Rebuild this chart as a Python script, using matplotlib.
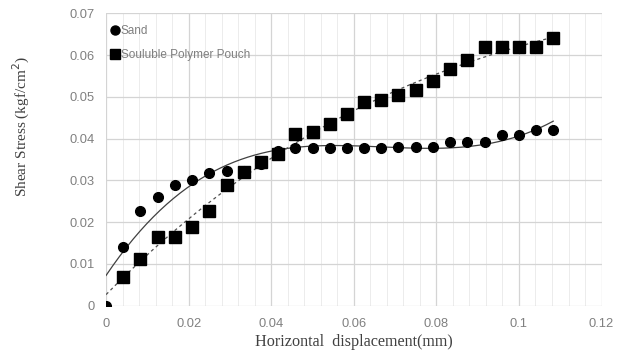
import numpy as np
import matplotlib
matplotlib.use("Agg")
import matplotlib.pyplot as plt
from matplotlib.lines import Line2D

displacement = [0, 0.0042, 0.0083, 0.0125, 0.0167, 0.0208, 0.025, 0.0292, 0.0333,
                0.0375, 0.0417, 0.0458, 0.05, 0.0542, 0.0583, 0.0625, 0.0667, 0.0708,
                0.075, 0.0792, 0.0833, 0.0875, 0.0917, 0.0958, 0.1, 0.1042, 0.1083]
sand = [0, 0.0141, 0.0227, 0.0261, 0.0290, 0.0301, 0.0318, 0.0323, 0.0322,
        0.0340, 0.0370, 0.0378, 0.0377, 0.0377, 0.0377, 0.0377, 0.0377, 0.0381,
        0.0381, 0.0381, 0.0392, 0.0392, 0.0392, 0.0408, 0.0408, 0.0420, 0.0420]
pouch_displacement = displacement[1:]
pouch = [0.0069, 0.0113, 0.0164, 0.0164, 0.0188, 0.0227, 0.0289, 0.0320,
         0.0345, 0.0364, 0.0412, 0.0416, 0.0435, 0.0459, 0.0487, 0.0492, 0.0504,
         0.0516, 0.0538, 0.0566, 0.0588, 0.0620, 0.0620, 0.0620, 0.0620, 0.0642]
series_names = ["Sand", "Souluble Polymer Pouch"]
x_ticks = [0, 0.02, 0.04, 0.06, 0.08, 0.1, 0.12]
x_tick_labels = ["0", "0.02", "0.04", "0.06", "0.08", "0.1", "0.12"]
y_ticks = [0, 0.01, 0.02, 0.03, 0.04, 0.05, 0.06, 0.07]
y_tick_labels = ["0", "0.01", "0.02", "0.03", "0.04", "0.05", "0.06", "0.07"]

fig = plt.figure(figsize=(6.24, 3.51), dpi=100)
ax = fig.add_axes([0.170, 0.129, 0.794, 0.833])

ax.set_xlim(0, 0.12)
ax.set_ylim(0, 0.07)
ax.set_xticks(x_ticks)
ax.set_xticklabels(x_tick_labels)
ax.set_yticks(y_ticks)
ax.set_yticklabels(y_tick_labels)
ax.set_xticks(np.arange(0, 0.1201, 0.004), minor=True)
ax.grid(True, which="major", color="#d4d4d4", linewidth=0.9)
ax.grid(True, which="minor", axis="x", color="#ececec", linewidth=0.7)
ax.set_axisbelow(True)
for s in ax.spines.values():
    s.set_visible(False)
ax.tick_params(axis="both", which="both", length=0, colors="#808080", labelsize=9.3)
ax.tick_params(axis="x", pad=9)
ax.tick_params(axis="y", pad=8)
for lab in ax.get_xticklabels() + ax.get_yticklabels():
    lab.set_family("Liberation Sans")

xs = np.array(displacement)
xp = np.array(pouch_displacement)
c_s = np.polyfit(xs, np.array(sand), 3)
c_p = np.polyfit(xp, np.array(pouch), 3)
xx_s = np.linspace(0, xs[-1], 200)
xx_p = np.linspace(0, xp[-1], 200)
ax.plot(xx_s, np.polyval(c_s, xx_s), color="#404040", lw=0.9, ls="-", zorder=2)
ax.plot(xx_p, np.polyval(c_p, xx_p), color="#505050", lw=0.9, ls=(0, (2.5, 2.5)), zorder=2)

ax.plot(xs, sand, ls="none", marker="o", ms=7, color="black", zorder=3)
ax.plot(xp, pouch, ls="none", marker="s", ms=8, color="black", zorder=4)

handles = [Line2D([], [], ls="none", marker="o", ms=6.5, color="black"),
           Line2D([], [], ls="none", marker="s", ms=6.5, color="black")]
leg = ax.legend(handles, series_names, loc="upper left", bbox_to_anchor=(-0.018, 0.995),
                frameon=False, handletextpad=-0.1, handlelength=1.2, labelspacing=0.95,
                prop={"family": "Liberation Sans", "size": 8.5})
for t in leg.get_texts():
    t.set_color("#7f7f7f")

ax.set_xlabel("Horizontal  displacement(mm)", family="Liberation Serif", fontsize=11.6,
              color="#404040")
ax.xaxis.set_label_coords(0.5, -0.097, transform=ax.transAxes)
ax.set_ylabel("Shear Stress (kgf/cm$^2$)", family="Liberation Serif", fontsize=11,
              color="#404040")
ax.yaxis.set_label_coords(-0.149, 0.613, transform=ax.transAxes)

fig.savefig("out.png", dpi=100)
